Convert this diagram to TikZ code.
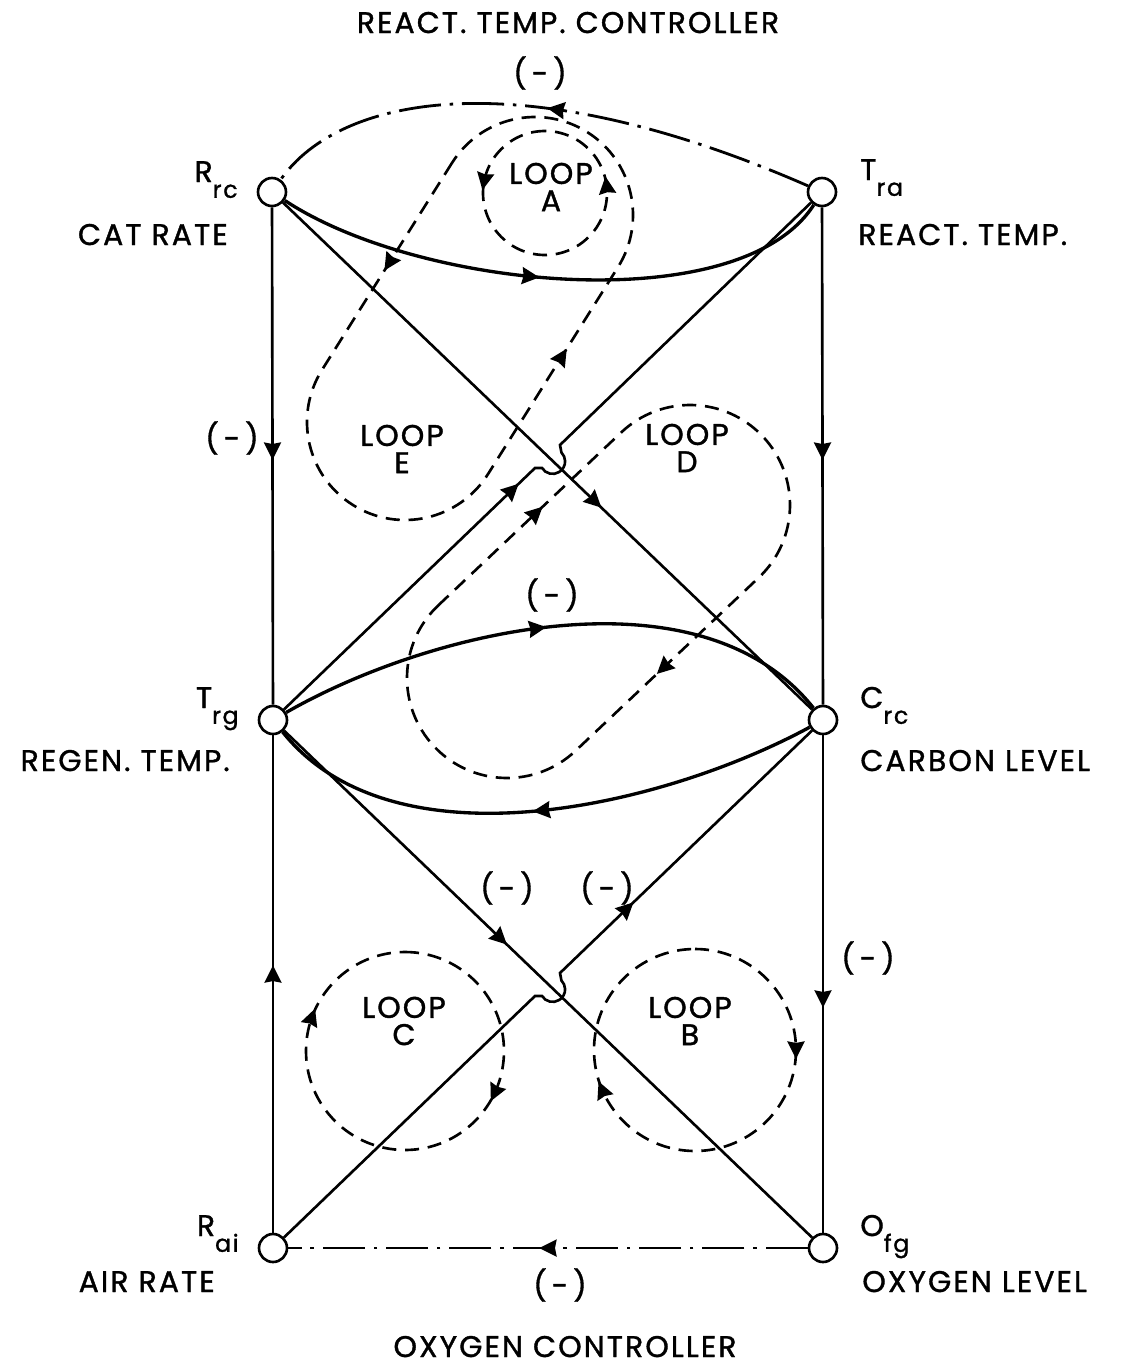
\documentclass[tikz,border=0pt]{standalone}
\usepackage{fontspec}
\setmainfont{Poppins}[LetterSpace=7,FakeBold=1.2]
\usetikzlibrary{arrows.meta,decorations.markings,calc}
\tikzset{
  vtx/.style={circle,draw,line width=1.5pt,fill=white,minimum size=0.56cm,inner sep=0pt},
  lnk/.style={line width=1.5pt},
  crv/.style={line width=1.9pt},
  ctrl/.style={line width=1.6pt,dash pattern=on 24pt off 5pt on 2pt off 5pt},
  loopline/.style={line width=1.5pt,dash pattern=on 8pt off 5pt},
  arr/.style={postaction={decorate,decoration={markings,mark=at position #1 with {\fill[solid] (5pt,0pt) -- (-5pt,5pt) -- (-4pt,0pt) -- (-5pt,-5pt) -- cycle;}}}},
  txt/.style={font=\fontsize{17}{17}\selectfont,inner sep=0pt},
  looplbl/.style={font=\fontsize{17}{15.5}\selectfont,align=center,inner sep=0pt},
}
\newcommand{\sublbl}[2]{#1\raisebox{-9pt}{\fontsize{13.5}{13.5}\selectfont #2}}
\begin{document}
\begin{tikzpicture}[x=0.02cm,y=-0.02cm]
\useasboundingbox (0,0) rectangle (1121,1366);
% vertices
\node[vtx] (Rrc) at (272,192) {};
\node[vtx] (Tra) at (822,192) {};
\node[vtx] (Trg) at (273,720) {};
\node[vtx] (Crc) at (823,720) {};
\node[vtx] (Rai) at (273,1248) {};
\node[vtx] (Ofg) at (823,1248) {};
% hop points
\coordinate (h1a) at (535,468);
\coordinate (h1b) at (560,445);
\coordinate (h2a) at (535,996);
\coordinate (h2b) at (560,973);
% loops
\draw[loopline,arr=0.22,arr=0.77] (545,193) ++(0,-62) arc[start angle=-90,end angle=-450,radius=62];
\draw[loopline,arr=0.32,arr=0.806] (405,1051) ++(0,-99) arc[start angle=-90,end angle=270,radius=99];
\draw[loopline,arr=0.25,arr=0.686] (695,1050) ++(0,-101) arc[start angle=-90,end angle=270,radius=101];
\draw[loopline,arr=0.107,arr=0.626] ($(535,215)+(212.1:98)$) -- ($(405,422)+(212.1:98)$)
  arc[start angle=212.1,end angle=32.1,radius=98] -- ($(535,215)+(32.1:98)$)
  arc[start angle=32.1,end angle=-147.9,radius=98] -- cycle;
\draw[loopline,arr=0.119,arr=0.616] ($(507,678)+(226.6:100)$) -- ($(690,505)+(226.6:100)$)
  arc[start angle=226.6,end angle=406.6,radius=100] -- ($(507,678)+(46.6:100)$)
  arc[start angle=46.6,end angle=226.6,radius=100] -- cycle;
% edges
\draw[lnk,arr=0.49] (Rrc) -- (Trg);
\draw[lnk,arr=0.49] (Tra) -- (Crc);
\draw[lnk,arr=0.52] (Rai) -- (Trg);
\draw[lnk,arr=0.53] (Crc) -- (Ofg);
\draw[lnk,arr=0.59] (Rrc) -- (Crc);
\draw[lnk,arr=0.41] (Trg) -- (Ofg);
\draw[lnk,arr=0.42] (Trg) -- (h1a) -- ++(7,0) arc[start angle=148,end angle=-45,radius=12.5] -- (h1b) -- (Tra);
\draw[lnk,arr=0.66] (Rai) -- (h2a) -- ++(7,0) arc[start angle=148,end angle=-45,radius=12.5] -- (h2b) -- (Crc);
\draw[crv,arr=0.46] (Rrc) .. controls (420,290) and (740,320) .. (Tra);
\draw[ctrl,arr=0.47] (Tra) .. controls (520,60) and (340,95) .. (Rrc);
\draw[crv,arr=0.47] (Trg) .. controls (430,630) and (700,565) .. (Crc);
\draw[crv,arr=0.5] (Crc) .. controls (664,806) and (394,871) .. (Trg);
\draw[ctrl,arr=0.5] (Ofg) -- (Rai);
% titles
\node[txt,anchor=base] (ttop) at (568,33) {REACT. TEMP. CONTROLLER};
\node[txt,anchor=base] (tbot) at (565,1357) {OXYGEN CONTROLLER};
% vertex labels
\node[txt,anchor=base east] (lRrc) at (238,182) {\sublbl{R}{rc}};
\node[txt,anchor=base east] (dRrc) at (228,245) {CAT RATE};
\node[txt,anchor=base west] (lTra) at (860,180) {\sublbl{T}{ra}};
\node[txt,anchor=base west] (dTra) at (858,245) {REACT. TEMP.};
\node[txt,anchor=base east] (lTrg) at (239,708) {\sublbl{T}{rg}};
\node[txt,anchor=base east] (dTrg) at (230,771) {REGEN. TEMP.};
\node[txt,anchor=base west] (lCrc) at (860,708) {\sublbl{C}{rc}};
\node[txt,anchor=base west] (dCrc) at (860,771) {CARBON LEVEL};
\node[txt,anchor=base east] (lRai) at (239,1236) {\sublbl{R}{ai}};
\node[txt,anchor=base east] (dRai) at (215,1292) {AIR RATE};
\node[txt,anchor=base west] (lOfg) at (860,1236) {\sublbl{O}{fg}};
\node[txt,anchor=base west] (dOfg) at (862,1292) {OXYGEN LEVEL};
% sign labels
\node[txt] (s1) at (540,73) {(\,-\,)};
\node[txt] (s2) at (232,438) {(\,-\,)};
\node[txt] (s3) at (552,595) {(\,-\,)};
\node[txt] (s4) at (507,888) {(\,-\,)};
\node[txt] (s5) at (607,888) {(\,-\,)};
\node[txt] (s6) at (868,958) {(\,-\,)};
\node[txt] (s7) at (560,1285) {(\,-\,)};
% loop labels
\node[looplbl] (LA) at (551,187) {LOOP\\A};
\node[looplbl] (LE) at (402,449) {LOOP\\E};
\node[looplbl] (LD) at (687,448) {LOOP\\D};
\node[looplbl] (LC) at (404,1021) {LOOP\\C};
\node[looplbl] (LB) at (690,1021) {LOOP\\B};
\end{tikzpicture}
\end{document}
